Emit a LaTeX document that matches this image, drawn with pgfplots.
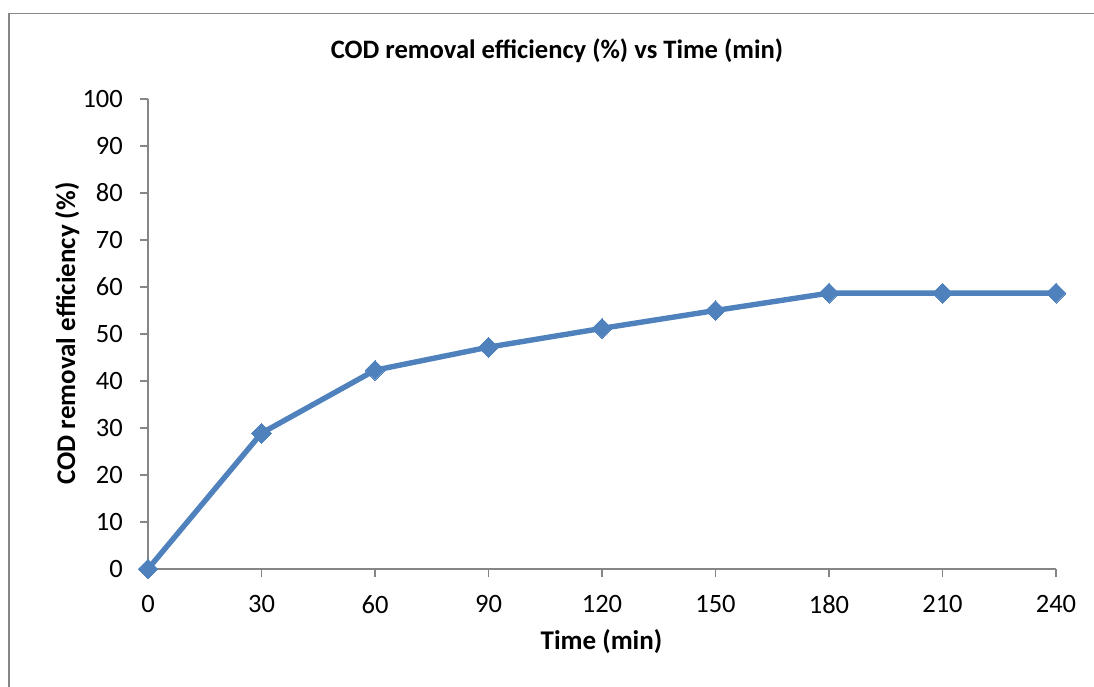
\documentclass[border=0pt]{standalone}
\usepackage{fontspec}
\setmainfont{Carlito}
\usepackage{pgfplots}
\pgfplotsset{compat=1.18}
\definecolor{serblue}{HTML}{4F81BD}
\definecolor{axgray}{HTML}{868686}
\begin{document}
\begin{tikzpicture}[x=1pt,y=1pt]
\useasboundingbox (0,0) rectangle (1094,686);
\draw[axgray, line width=1.2pt] (9,-5) -- (9,672.7) -- (1100,672.7);
\begin{axis}[
  at={(148pt,117pt)}, anchor=south west,
  scale only axis, width=908pt, height=470pt,
  xmin=0, xmax=240, ymin=0, ymax=100,
  axis lines*=left,
  axis line style={axgray, line width=1.3pt, -},
  xtick={0,30,...,240}, ytick={0,10,...,100},
  tick align=outside, major tick length=8pt,
  tick style={axgray, line width=1.3pt},
  /pgf/number format/assume math mode=true,
  ticklabel style={font=\fontsize{26.5}{30}\selectfont, text=black},
  xticklabel style={anchor=north, inner sep=0pt, yshift=-18pt},
  yticklabel style={anchor=east, inner sep=0pt, xshift=-17pt},
  clip=false,
]
\addplot[serblue, line width=5.4pt, mark=square*, mark size=7pt,
  mark options={rotate=45, solid, fill=serblue, draw=serblue, line width=0pt}]
  coordinates {(0,0) (30,28.9) (60,42.3) (90,47.2) (120,51.2) (150,55.0) (180,58.7) (210,58.7) (240,58.7)};
\end{axis}
\node[anchor=base, inner sep=0pt, font=\bfseries\fontsize{26.6}{30}\selectfont] at (557,627.7) {COD removal efficiency (\%) vs Time (min)};
\node[anchor=base, inner sep=0pt, font=\bfseries\fontsize{27}{30}\selectfont] at (601.5,36.7) {Time (min)};
\node[anchor=base, inner sep=0pt, rotate=90, font=\bfseries\fontsize{27}{30}\selectfont] at (75,352.5) {COD removal efficiency (\%)};
\end{tikzpicture}
\end{document}
